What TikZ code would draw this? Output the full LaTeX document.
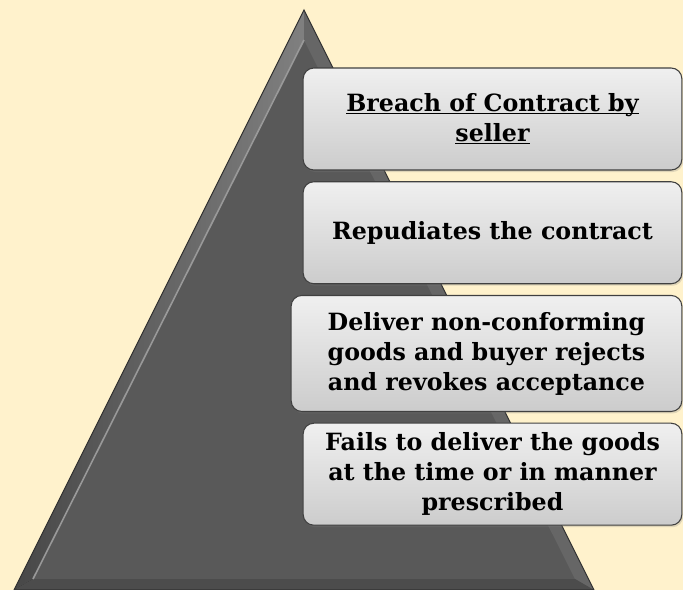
\documentclass[tikz,border=0pt]{standalone}
\usepackage{fontspec}
\usepackage{xcolor}
\usetikzlibrary{positioning,shadows}

\setmainfont{DejaVu Serif}
\definecolor{cream}{HTML}{FFF2CC}
\newcommand{\ulinetext}[1]{\setbox0\hbox{#1}\rlap{\vrule height -0.06em depth 0.11em width \wd0}\box0}

\begin{document}
\begin{tikzpicture}[
    x=0.75pt, y=-0.75pt,
    node distance=8pt,
    tier/.style={rectangle, rounded corners=8pt, draw=black!75, line width=0.8pt,
        top color=black!6, bottom color=black!20,
        minimum width=284pt, minimum height=76.5pt, inner sep=2pt,
        align=center, font=\fontsize{17.8}{22.5}\selectfont\bfseries,
        drop shadow={opacity=0.25, shadow xshift=1pt, shadow yshift=-1.5pt}}
]
    % Background
    \fill[cream] (0,0) rectangle (683,590);
    \useasboundingbox (0,0) rectangle (683,590);

    % Pyramid
    \coordinate (apex) at (304,10);
    \coordinate (baseleft) at (14,590);
    \coordinate (baseright) at (594,590);
    \coordinate (innerapex) at (304,40);
    \coordinate (innerleft) at (33,579);
    \coordinate (innerright) at (575,579);
    \fill[black!65] (apex) -- (baseright) -- (baseleft) -- cycle;
    \fill[left color=black!72, right color=black!50] (apex) -- (innerapex) -- (innerleft) -- (baseleft) -- cycle;
    \fill[black!60] (apex) -- (baseright) -- (innerright) -- (innerapex) -- cycle;
    \fill[black!70] (baseleft) -- (innerleft) -- (innerright) -- (baseright) -- cycle;
    \draw[black!40, line width=1.2pt] (innerapex) -- (innerleft);
    \draw[black!80, line width=0.8pt] (apex) -- (baseright) -- (baseleft) -- cycle;

    % Tiers
    \node[tier] (breach) at (492.5,119) {\ulinetext{Breach of Contract by}\\\ulinetext{seller}};
    \node[tier, below=of breach] (repudiate) {Repudiates the contract};
    \node[tier, minimum width=293pt, minimum height=87pt, below=8pt of repudiate.south east, anchor=north east] (nonconform) {Deliver non-conforming\\goods and buyer rejects\\and revokes acceptance};
    \node[tier, below=8pt of nonconform.south east, anchor=north east] (fails) {Fails to deliver the goods\\at the time or in manner\\prescribed};
\end{tikzpicture}
\end{document}
